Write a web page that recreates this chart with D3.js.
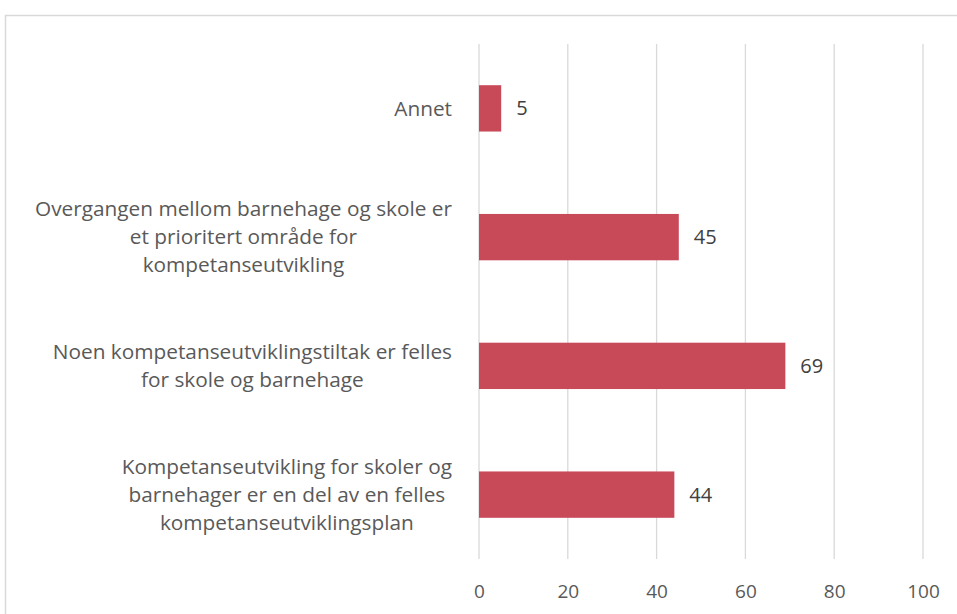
<!DOCTYPE html>
<html>
<head>
<meta charset="utf-8">
<script src="https://cdn.jsdelivr.net/npm/d3@7"></script>
<style>
  body { margin: 0; background: #fff; }
  text { font-family: "Open Sans", sans-serif; }
</style>
</head>
<body>
<div id="chart"></div>
<script>
'use strict';
var categories = [
    ['Annet'],
    ['Overgangen mellom barnehage og skole er', 'et prioritert område for', 'kompetanseutvikling'],
    ['Noen kompetanseutviklingstiltak er felles', 'for skole og barnehage'],
    ['Kompetanseutvikling for skoler og', 'barnehager er en del av en felles', 'kompetanseutviklingsplan']
];
var values = [5, 45, 69, 44];
var tickValues = [0, 20, 40, 60, 80, 100];

var width = 957, height = 614;
var plot = { left: 479, right: 923, top: 44, bottom: 559 };
var labelRight = 452;
var labelSize = 20.8;
var tickSize = 19;
var valueSize = 20;
var lineHeight = 28;

var svg = d3.select('#chart').append('svg')
    .attr('width', width)
    .attr('height', height);

// outer chart border (runs off the right and bottom edge)
svg.append('rect')
    .attr('x', 5.5).attr('y', 15.5)
    .attr('width', 1000).attr('height', 700)
    .attr('fill', '#fff')
    .attr('stroke', '#d9d9d9')
    .attr('stroke-width', 1.5);

var x = d3.scaleLinear().domain([0, 100]).range([plot.left, plot.right]);
var y = d3.scaleBand()
    .domain(d3.range(values.length))
    .range([plot.top, plot.bottom])
    .paddingInner(0.64)
    .paddingOuter(0.32);

// gridlines
svg.append('g').selectAll('line')
    .data(tickValues)
    .enter().append('line')
    .attr('x1', function (d) { return x(d); })
    .attr('x2', function (d) { return x(d); })
    .attr('y1', plot.top)
    .attr('y2', plot.bottom)
    .attr('stroke', '#d9d9d9')
    .attr('stroke-width', 1.3);

// x axis labels
var xAxis = svg.append('g')
    .attr('transform', 'translate(0,' + 598 + ')')
    .call(d3.axisBottom(x).tickValues(tickValues).tickSize(0).tickPadding(0));
xAxis.select('.domain').remove();
xAxis.selectAll('text')
    .attr('dy', 0)
    .style('font-size', tickSize + 'px')
    .style('font-family', '"Open Sans", sans-serif')
    .attr('fill', '#595959');

// bars
svg.selectAll('.bar')
    .data(values)
    .enter().append('rect')
    .attr('class', 'bar')
    .attr('x', x(0))
    .attr('y', function (d, i) { return y(i); })
    .attr('width', function (d) { return x(d) - x(0); })
    .attr('height', y.bandwidth())
    .attr('fill', '#c84a59');

// value labels
svg.selectAll('.val')
    .data(values)
    .enter().append('text')
    .attr('class', 'val')
    .attr('x', function (d) { return x(d) + 15; })
    .attr('y', function (d, i) { return y(i) + y.bandwidth() / 2; })
    .attr('dy', '0.35em')
    .style('font-size', valueSize + 'px')
    .attr('fill', '#404040')
    .text(function (d) { return d; });

// category labels: block right-aligned, lines centred in block
categories.forEach(function (lines, i) {
    var g = svg.append('g');
    var cy = y(i) + y.bandwidth() / 2;
    var t = g.selectAll('text')
        .data(lines)
        .enter().append('text')
        .attr('y', function (d, j) { return cy + (j - (lines.length - 1) / 2) * lineHeight; })
        .attr('dy', '0.35em')
        .attr('text-anchor', 'middle')
        .style('font-size', labelSize + 'px')
        .attr('fill', '#595959')
        .text(function (d) { return d; });
    var maxW = d3.max(t.nodes(), function (n) { return n.getComputedTextLength(); });
    t.attr('x', labelRight - maxW / 2);
});
</script>
</body>
</html>
